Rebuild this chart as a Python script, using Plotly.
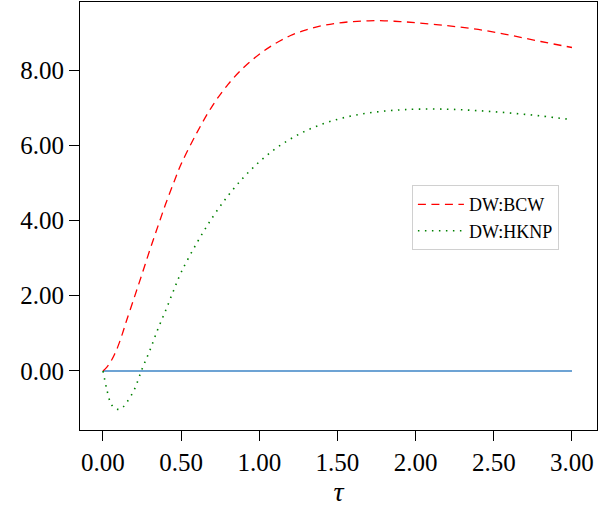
import plotly.graph_objects as go

tau = [0, 0.025, 0.05, 0.075, 0.1, 0.125, 0.15, 0.2, 0.25, 0.3, 0.35, 0.4, 0.45, 0.5, 0.6, 0.7, 0.8, 0.9,
       1.0, 1.1, 1.2, 1.3, 1.4, 1.5, 1.6, 1.7, 1.8, 1.9, 2.0, 2.2, 2.4, 2.6, 2.8, 3.0]

bcw = [0, 0.1, 0.25, 0.45, 0.7, 1.0, 1.33, 1.95, 2.58, 3.22, 3.83, 4.43, 4.98, 5.5, 6.33, 7.05, 7.62, 8.07,
       8.42, 8.7, 8.92, 9.07, 9.18, 9.25, 9.29, 9.31, 9.31, 9.29, 9.26, 9.18, 9.08, 8.93, 8.76, 8.6]

hknp = [0, -0.5, -0.86, -0.99, -1.02, -0.97, -0.85, -0.5, 0.05, 0.55, 1.1, 1.6, 2.12, 2.62, 3.4, 4.08, 4.66, 5.15,
        5.56, 5.9, 6.17, 6.39, 6.56, 6.69, 6.79, 6.86, 6.91, 6.94, 6.96, 6.96, 6.92, 6.86, 6.78, 6.68]

zero_x = [0, 3.0]
zero_y = [0, 0]

xticks = [0, 0.5, 1.0, 1.5, 2.0, 2.5, 3.0]
yticks = [0, 2, 4, 6, 8]

FONT = "Liberation Serif"

fig = go.Figure()
fig.add_trace(go.Scatter(x=zero_x, y=zero_y, mode="lines", showlegend=False,
                         line=dict(color="#3d85c6", width=1.6)))
fig.add_trace(go.Scatter(x=tau, y=bcw, mode="lines", name="DW:BCW", line_shape="spline",
                         line=dict(color="#ff0000", width=1.3, dash="8px,5.5px")))
fig.add_trace(go.Scatter(x=tau, y=hknp, mode="lines", name="DW:HKNP", line_shape="spline",
                         line=dict(color="#008000", width=1.6, dash="1.5px,5.5px")))

axis_common = dict(showline=True, linecolor="black", linewidth=1, mirror=True,
                   ticks="outside", ticklen=10, tickcolor="black", showgrid=False, zeroline=False,
                   tickfont=dict(family=FONT, size=25, color="black"))

fig.update_layout(
    width=598, height=510,
    margin=dict(l=80, r=1, t=2, b=80),
    plot_bgcolor="white", paper_bgcolor="white",
    xaxis=dict(range=[-0.147, 3.16], tickvals=xticks, ticktext=[f"{v:.2f}" for v in xticks],
               title=dict(text="<i>τ</i>", font=dict(family=FONT, size=28, color="black"), standoff=6),
               **axis_common),
    yaxis=dict(range=[-1.57, 9.81], tickvals=yticks, ticktext=[f"{v:.2f}" for v in yticks],
               **axis_common),
    legend=dict(x=0.642, y=0.572, xanchor="left", yanchor="top", itemwidth=46,
                bordercolor="#d0d0d0", borderwidth=1, bgcolor="white",
                font=dict(family=FONT, size=18, color="black")),
)

fig.write_html("out.html", config={"displayModeBar": False},
               post_script="document.body.style.margin='0';")
